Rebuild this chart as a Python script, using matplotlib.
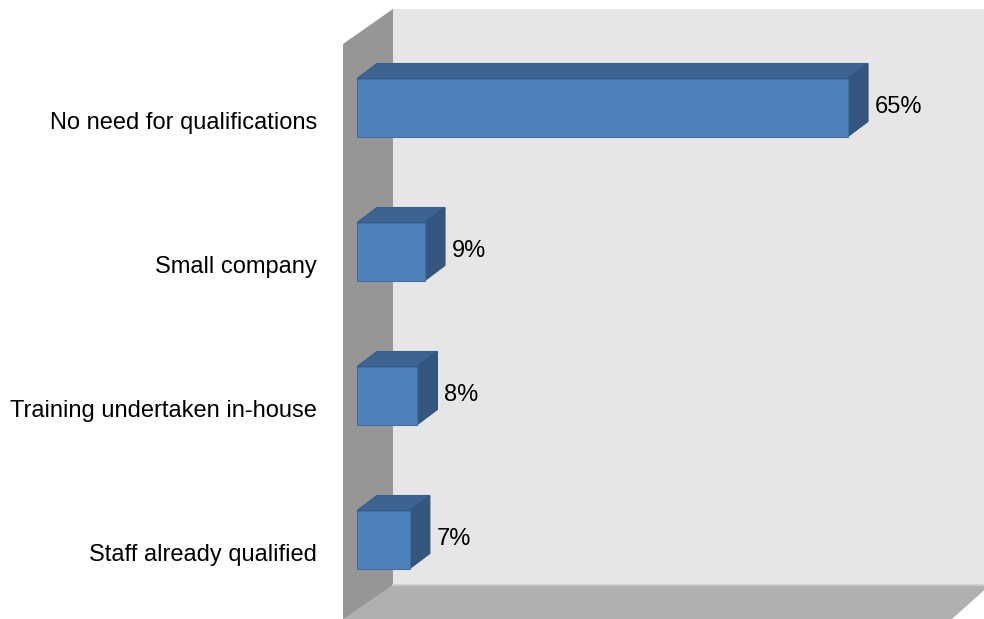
import matplotlib.pyplot as plt
from matplotlib.patches import Polygon

plt.rcParams['font.family'] = ['Liberation Sans', 'DejaVu Sans']

categories = ['No need for qualifications', 'Small company',
              'Training undertaken in-house', 'Staff already qualified']
values = [65, 9, 8, 7]
labels = ['65%', '9%', '8%', '7%']

W, H = 984, 619
fig = plt.figure(figsize=(W / 100, H / 100), dpi=100)
ax = fig.add_axes([0, 0, 1, 1])
ax.set_axis_off()

# pixel anchors of the value scale and the category rows
x0_px, px_per_pct = 357, 7.554
y0_px, px_per_cat = 107.5, 144.0
ax.set_xlim(-x0_px / px_per_pct, (W - x0_px) / px_per_pct)
ax.set_ylim((H - y0_px) / px_per_cat, -y0_px / px_per_cat)


def px(x, y):
    # convert figure pixels to data units (for the chart walls)
    return ((x - x0_px) / px_per_pct, (y - y0_px) / px_per_cat)


# back wall, side wall and floor
ax.add_patch(Polygon([px(393, 9), px(990, 9), px(990, 585), px(393, 585)],
                     closed=True, fc='#e6e6e6', ec='none', zorder=1))
ax.add_patch(Polygon([px(343, 44), px(393, 9), px(393, 585), px(343, 625)],
                     closed=True, fc='#969696', ec='none', zorder=2))
ax.add_patch(Polygon([px(343, 619), px(393, 585), px(990, 585), px(952, 619)],
                     closed=True, fc='#b0b0b0', ec='none', zorder=2))
ax.plot([px(393, 585)[0], px(990, 585)[0]], [px(393, 585)[1]] * 2,
        color='#cfcfcf', lw=1.2, zorder=2)

# bar depth and thickness in data units
dx = 20 / px_per_pct
dy = -15 / px_per_cat
half = 29 / px_per_cat

for i, (v, lab) in enumerate(zip(values, labels)):
    top, bot = i - half, i + half
    front = [(0, top), (v, top), (v, bot), (0, bot)]
    lid = [(0, top), (dx, top + dy), (v + dx, top + dy), (v, top)]
    side = [(v, top), (v + dx, top + dy), (v + dx, bot + dy), (v, bot)]
    ax.add_patch(Polygon(lid, closed=True, fc='#3c6392', ec='#3a5f8c',
                         lw=0.8, zorder=3))
    ax.add_patch(Polygon(side, closed=True, fc='#34567f', ec='#33547c',
                         lw=0.8, zorder=3))
    ax.add_patch(Polygon(front, closed=True, fc='#4f81bd', ec='#41709f',
                         lw=0.8, zorder=4))
    ax.text(v + dx + 7 / px_per_pct, i + 5.5 / px_per_cat, lab,
            fontsize=17, ha='left', va='baseline', color='black', zorder=5)
    ax.text(-40 / px_per_pct, i + 21 / px_per_cat, categories[i],
            fontsize=17, ha='right', va='baseline', color='black', zorder=5)

fig.savefig('out.png', dpi=100)
